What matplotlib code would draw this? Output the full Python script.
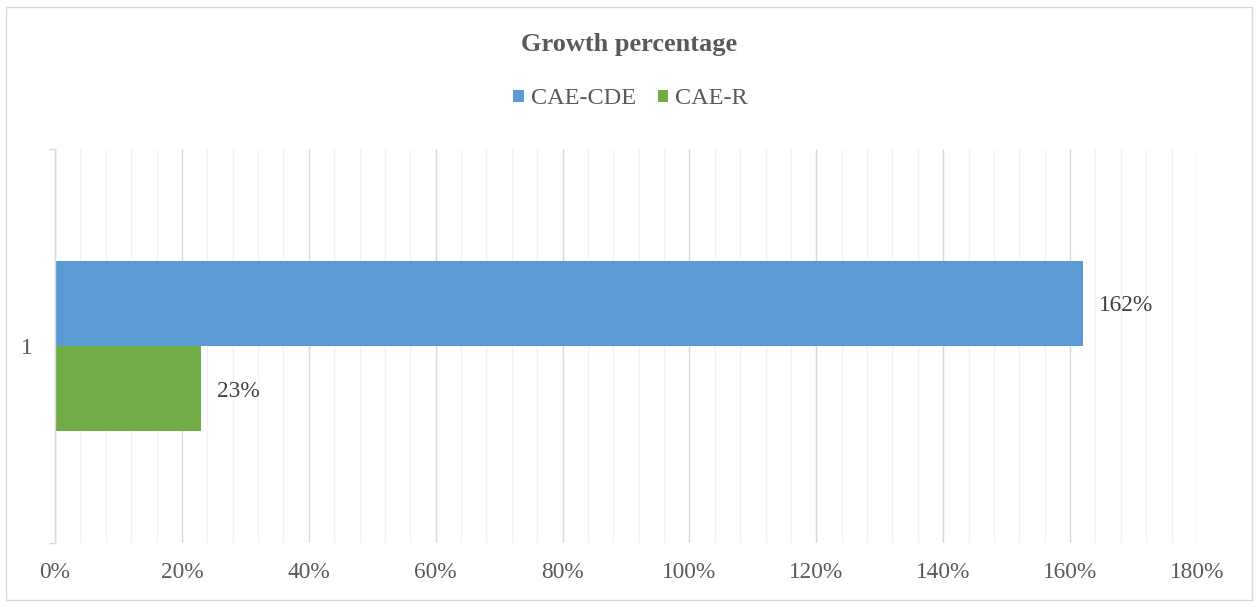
import matplotlib
matplotlib.use("Agg")
import matplotlib.pyplot as plt
from matplotlib.patches import Patch, Rectangle
from matplotlib.ticker import MultipleLocator, FuncFormatter

# Data
categories = ["1"]
series_names = ["CAE-CDE", "CAE-R"]
cae_cde = [162]
cae_r = [23]
x_ticks = [0, 20, 40, 60, 80, 100, 120, 140, 160, 180]

colors = {"CAE-CDE": "#5B9BD5", "CAE-R": "#70AD47"}
text_gray = "#595959"
label_gray = "#404040"
major_grid = "#D9D9D9"
minor_grid = "#F2F2F2"

plt.rcParams["font.family"] = ["Liberation Serif", "DejaVu Serif"]

W, H = 1259, 607
fig = plt.figure(figsize=(W / 100, H / 100), dpi=100)

# chart-area border
fig.patches.append(Rectangle((6 / W, 1 - 600 / H), 1246 / W, 593 / H,
                             transform=fig.transFigure, fill=False,
                             edgecolor="#D9D9D9", linewidth=1.0))

ax = fig.add_axes([55 / W, 1 - 543 / H, (1197 - 55) / W, (543 - 149) / H])

bar_h = 0.216
ypos = [1]
ax.barh([y + bar_h / 2 for y in ypos], cae_cde, height=bar_h,
        color=colors["CAE-CDE"], zorder=3)
ax.barh([y - bar_h / 2 for y in ypos], cae_r, height=bar_h,
        color=colors["CAE-R"], zorder=3)

fs = 16.8
for y, v in zip(ypos, cae_cde):
    ax.annotate(f"{v}%", (v, y + bar_h / 2), xytext=(11.5, 0),
                textcoords="offset points", va="center_baseline", ha="left",
                fontsize=fs, color=label_gray)
for y, v in zip(ypos, cae_r):
    ax.annotate(f"{v}%", (v, y - bar_h / 2), xytext=(11.5, 0),
                textcoords="offset points", va="center_baseline", ha="left",
                fontsize=fs, color=label_gray)

ax.set_xlim(0, 180)
ax.set_ylim(0.5, 1.5)
ax.set_xticks(x_ticks)
ax.xaxis.set_major_formatter(FuncFormatter(lambda v, p: f"{v:.0f}%"))
ax.xaxis.set_minor_locator(MultipleLocator(4))
ax.tick_params(axis="x", which="both", length=0, pad=14,
               labelsize=fs, labelcolor=text_gray)

ax.set_yticks(ypos)
ax.set_yticklabels(categories)
ax.set_yticks([0.5, 1.5], minor=True)
ax.tick_params(axis="y", which="major", length=0, pad=16,
               labelsize=fs, labelcolor=text_gray)
ax.tick_params(axis="y", which="minor", length=4, width=1.0,
               color=major_grid)

ax.grid(axis="x", which="minor", color=minor_grid, linewidth=1.0, zorder=0)
ax.grid(axis="x", which="major", color=major_grid, linewidth=1.0, zorder=1)

for s in ["top", "right", "bottom"]:
    ax.spines[s].set_visible(False)
ax.spines["left"].set_color(major_grid)
ax.spines["left"].set_linewidth(1.0)
ax.spines["left"].set_zorder(4)

fig.text(0.5, 1 - 44 / H, "Growth percentage", ha="center", va="center",
         fontsize=19, fontweight="bold", color=text_gray)

handles = [Patch(facecolor=colors[n], edgecolor="none") for n in series_names]
fig.legend(handles, series_names, loc="center", bbox_to_anchor=(0.501, 1 - 99 / H),
           ncol=2, frameon=False, fontsize=17.5, labelcolor=text_gray,
           handlelength=0.42, handleheight=0.42, handletextpad=0.3,
           columnspacing=0.9)

fig.savefig("out.png", dpi=100)
